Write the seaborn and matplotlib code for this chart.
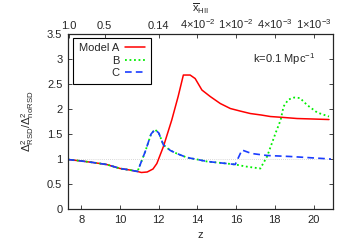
import matplotlib
matplotlib.use("Agg")
import matplotlib.pyplot as plt
import seaborn as sns
import pandas as pd

# ---- data ----
z_A = [7.3, 8.0, 8.6, 9.3, 10.0, 10.5, 10.9, 11.1, 11.4, 11.7, 11.9, 12.24, 12.67, 13.0, 13.27,
       13.62, 13.88, 14.23, 14.66, 15.18, 15.7, 16.2, 16.73, 17.3, 17.77, 18.5, 19.15, 20.0, 20.8]
y_A = [0.99, 0.96, 0.93, 0.89, 0.81, 0.78, 0.75, 0.73, 0.74, 0.80, 0.91, 1.25, 1.78, 2.25, 2.68,
       2.68, 2.61, 2.38, 2.25, 2.11, 2.01, 1.96, 1.91, 1.88, 1.85, 1.83, 1.81, 1.80, 1.79]

z_B = [7.3, 8.0, 8.6, 9.3, 10.0, 10.5, 10.9, 11.3, 11.6, 11.8, 12.0, 12.24, 12.6, 12.93, 13.45,
       14.0, 14.5, 15.0, 15.5, 15.95, 16.5, 17.25, 17.6, 18.03, 18.3, 18.45, 18.7, 19.0, 19.3,
       19.67, 20.19, 20.8]
y_B = [0.99, 0.96, 0.93, 0.89, 0.81, 0.78, 0.75, 1.15, 1.50, 1.59, 1.52, 1.28, 1.17, 1.11, 1.03,
       0.99, 0.95, 0.93, 0.91, 0.89, 0.85, 0.81, 1.05, 1.51, 1.78, 2.05, 2.19, 2.23, 2.22,
       2.08, 1.93, 1.85]

z_C = [7.3, 8.0, 8.6, 9.3, 10.0, 10.5, 10.9, 11.3, 11.6, 11.8, 12.0, 12.24, 12.6, 12.93, 13.45,
       14.0, 14.5, 15.0, 15.5, 15.95, 16.3, 16.8, 17.6, 18.8, 20.9]
y_C = [0.99, 0.96, 0.93, 0.89, 0.81, 0.78, 0.75, 1.15, 1.50, 1.59, 1.52, 1.28, 1.17, 1.11, 1.03,
       0.99, 0.95, 0.93, 0.91, 0.89, 1.18, 1.11, 1.07, 1.05, 1.00]

labels = ["Model A", "B", "C"]
x_ticks = [8, 10, 12, 14, 16, 18, 20]
y_ticks = [0, 0.5, 1, 1.5, 2, 2.5, 3, 3.5]
y_tick_labels = ["0", "0.5", "1", "1.5", "2", "2.5", "3", "3.5"]
top_tick_z = [7.35, 9.2, 12.0, 14.0, 16.0, 18.0, 20.0]
top_tick_labels = ["1.0", "0.5", "0.14", r"4$\times$10$^{-2}$", r"1$\times$10$^{-2}$",
                   r"4$\times$10$^{-3}$", r"1$\times$10$^{-3}$"]

sns.set_style("ticks")
plt.rcParams["font.family"] = ["Liberation Sans", "DejaVu Sans"]
plt.rcParams["mathtext.default"] = "regular"
FS = 8
plt.rcParams["font.size"] = FS

fig = plt.figure(figsize=(3.5, 2.45), dpi=100)
ax = fig.add_axes([0.194, 0.147, 0.757, 0.714])

ax.axhline(1.0, color="#cccccc", lw=0.6, ls=(0, (1, 1.5)), zorder=0)

dfA = pd.DataFrame({"z": z_A, "v": y_A})
dfB = pd.DataFrame({"z": z_B, "v": y_B})
dfC = pd.DataFrame({"z": z_C, "v": y_C})
sns.lineplot(data=dfA, x="z", y="v", ax=ax, color="#ff0000", lw=1.1, label=labels[0])
sns.lineplot(data=dfB, x="z", y="v", ax=ax, color="#00ee00", lw=1.3, ls=(0, (1, 1.5)), label=labels[1])
sns.lineplot(data=dfC, x="z", y="v", ax=ax, color="#1a3cff", lw=1.2, ls=(0, (4, 2.5)), label=labels[2])

ax.set_xlim(7.3, 21)
ax.set_ylim(0, 3.5)
ax.set_xticks(x_ticks)
ax.set_yticks(y_ticks)
ax.set_yticklabels(y_tick_labels)
ax.tick_params(direction="in", length=3, width=0.6, top=True, right=True, labelsize=FS, pad=4)
for s in ax.spines.values():
    s.set_linewidth(0.8)
    s.set_color("black")
ax.set_xlabel("z", fontsize=FS, labelpad=4)
ax.set_ylabel(r"$\Delta^2_{RSD}/\Delta^2_{noRSD}$", fontsize=FS, labelpad=8)

ax2 = ax.twiny()
ax2.set_xlim(ax.get_xlim())
ax2.set_xticks(top_tick_z)
ax2.set_xticklabels(top_tick_labels)
ax2.tick_params(direction="in", length=3, width=0.6, labelsize=FS, pad=2)
ax2.set_xlabel(r"$\overline{x}_{HII}$", fontsize=FS, labelpad=3.5)

ax.text(0.935, 0.855, r"k=0.1 Mpc$^{-1}$", transform=ax.transAxes, ha="right", va="center", fontsize=FS)

leg = ax.legend(loc="upper left", bbox_to_anchor=(0.02, 0.98), markerfirst=False, frameon=True,
                fancybox=False, edgecolor="black", framealpha=1, fontsize=FS, handlelength=1.8,
                borderpad=0.5, labelspacing=0.22, handletextpad=0.55, borderaxespad=0)
leg.get_frame().set_linewidth(0.8)

fig.savefig("out.png", dpi=100)
